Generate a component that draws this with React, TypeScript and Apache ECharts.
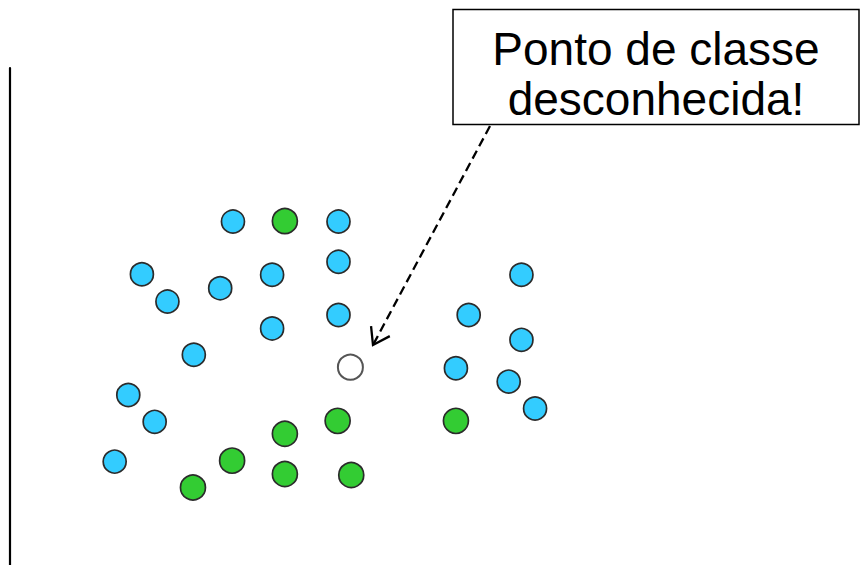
import React, { useEffect, useRef } from "react";
import * as echarts from "echarts";

// Known-class points (x, y) in axis units
const blueX = [26.2, 38.6, 38.6, 30.8, 15.5, 18.5, 24.7, 30.8, 38.6, 21.6, 13.9, 17.0, 12.3, 60.1, 53.9, 60.1, 52.4, 58.6, 61.7];
const blueY = [69.1, 69.1, 61.0, 58.4, 58.5, 53.0, 55.7, 47.6, 50.3, 42.3, 34.2, 28.8, 20.8, 58.4, 50.3, 45.3, 39.6, 36.9, 31.5];
const greenX = [32.3, 38.5, 32.3, 52.4, 26.1, 32.3, 40.1, 21.5];
const greenY = [69.2, 29.0, 26.4, 29.0, 21.0, 18.3, 18.1, 15.6];
// Unknown-class point
const unknownX = [40.0];
const unknownY = [39.8];

const annotationText = "Ponto de classe\ndesconhecida!";

const zip = (xs: number[], ys: number[]) => xs.map((x, i) => [x, ys[i]]);

export default function App() {
  const ref = useRef<HTMLDivElement>(null);

  useEffect(() => {
    if (!ref.current) return;
    const chart = echarts.init(ref.current, null, { renderer: "svg" });

    const tip = [373, 345];
    const start = [490, 126];
    const ang = Math.atan2(start[1] - tip[1], start[0] - tip[0]);
    const armLen = 19;
    const spread = (34 * Math.PI) / 180;
    const arm1 = [tip[0] + armLen * Math.cos(ang - spread), tip[1] + armLen * Math.sin(ang - spread)];
    const arm2 = [tip[0] + armLen * Math.cos(ang + spread), tip[1] + armLen * Math.sin(ang + spread)];

    chart.setOption({
      animation: false,
      backgroundColor: "#ffffff",
      grid: { left: 10, right: 0, top: 68, bottom: 0 },
      xAxis: {
        type: "value",
        min: 0,
        max: 100,
        axisLine: { show: false },
        axisTick: { show: false },
        axisLabel: { show: false },
        splitLine: { show: false },
      },
      yAxis: {
        type: "value",
        min: 0,
        max: 100,
        axisLine: { show: true, onZero: false, lineStyle: { color: "#000", width: 2.2 } },
        axisTick: { show: false },
        axisLabel: { show: false },
        splitLine: { show: false },
      },
      series: [
        {
          type: "scatter",
          data: zip(blueX, blueY),
          symbolSize: 23,
          itemStyle: { color: "#33ccff", borderColor: "#2b2b2b", borderWidth: 1.7, opacity: 1 },
        },
        {
          type: "scatter",
          data: zip(greenX, greenY),
          symbolSize: 25,
          itemStyle: { color: "#33cc33", borderColor: "#2b2b2b", borderWidth: 1.7, opacity: 1 },
        },
        {
          type: "scatter",
          data: zip(unknownX, unknownY),
          symbolSize: 25,
          itemStyle: { color: "#ffffff", borderColor: "#555", borderWidth: 2, opacity: 1 },
        },
      ],
      graphic: [
        {
          type: "rect",
          shape: { x: 453, y: 9.5, width: 406, height: 115 },
          style: { fill: "#fff", stroke: "#000", lineWidth: 1.5 },
          z: 10,
        },
        {
          type: "text",
          x: 656,
          y: 74,
          style: {
            text: annotationText,
            font: '46px "Liberation Sans", Arial, sans-serif',
            lineHeight: 50,
            align: "center",
            verticalAlign: "middle",
            fill: "#000",
          },
          z: 11,
        },
        {
          type: "line",
          shape: { x1: start[0], y1: start[1], x2: tip[0], y2: tip[1] },
          style: { stroke: "#000", lineWidth: 2.3, lineDash: [9, 5] },
          z: 10,
        },
        {
          type: "polyline",
          shape: { points: [arm1, tip, arm2] },
          style: { stroke: "#000", lineWidth: 2.3, fill: null },
          z: 10,
        },
      ],
    });

    return () => chart.dispose();
  }, []);

  return (
    <div
      ref={ref}
      style={{ position: "absolute", left: 0, top: 0, width: 861, height: 565 }}
    />
  );
}
